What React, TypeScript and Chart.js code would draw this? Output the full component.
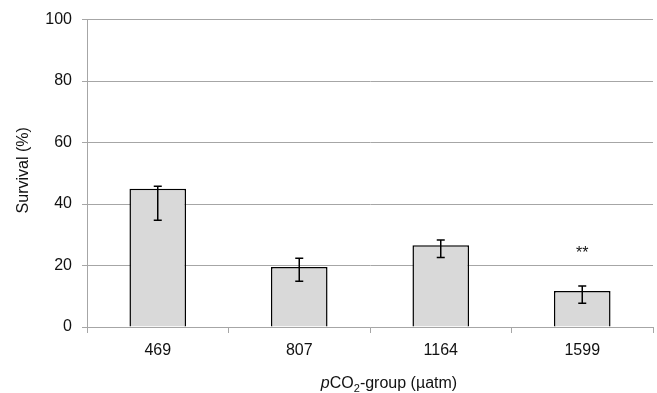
import React, { useEffect, useRef } from "react";
import { Chart, registerables } from "chart.js";

Chart.register(...registerables);

const categories = ["469", "807", "1164", "1599"];
const survival = [45.0, 19.5, 26.6, 11.7];
const errLow = [34.7, 14.9, 22.6, 7.7];
const errHigh = [45.8, 22.4, 28.3, 13.3];
const sigLabels = ["", "", "", "**"];
const sigLevel = [0, 0, 0, 22.5];
const yTicks = [0, 20, 40, 60, 80, 100];

const FONT = "'Liberation Sans', Arial, sans-serif";
const GRID = "#a6a6a6";
const TEXT = "#111111";

const errorBarPlugin = {
  id: "errorBars",
  afterDatasetsDraw(chart: any) {
    const ctx = chart.ctx;
    const xs = chart.scales.x;
    const ys = chart.scales.y;
    ctx.save();
    ctx.strokeStyle = "#000";
    ctx.lineWidth = 1.5;
    categories.forEach((_, i) => {
      const x = xs.getPixelForValue(i);
      const yH = ys.getPixelForValue(errHigh[i]);
      const yL = ys.getPixelForValue(errLow[i]);
      ctx.beginPath();
      ctx.moveTo(x, yH);
      ctx.lineTo(x, yL);
      ctx.moveTo(x - 4, yH);
      ctx.lineTo(x + 4, yH);
      ctx.moveTo(x - 4, yL);
      ctx.lineTo(x + 4, yL);
      ctx.stroke();
    });
    ctx.fillStyle = TEXT;
    ctx.font = `16px ${FONT}`;
    ctx.textAlign = "center";
    ctx.textBaseline = "alphabetic";
    sigLabels.forEach((s, i) => {
      if (!s) return;
      ctx.fillText(s, xs.getPixelForValue(i), ys.getPixelForValue(sigLevel[i]));
    });
    ctx.restore();
  },
};

const titlesPlugin = {
  id: "axisTitles",
  afterDraw(chart: any) {
    const ctx = chart.ctx;
    const area = chart.chartArea;
    ctx.save();
    ctx.fillStyle = TEXT;
    // y title
    ctx.font = `16px ${FONT}`;
    ctx.translate(24, (area.top + area.bottom) / 2 - 3);
    ctx.rotate(-Math.PI / 2);
    ctx.textAlign = "center";
    ctx.textBaseline = "middle";
    ctx.fillText("Survival (%)", 0, 0);
    ctx.restore();

    // x title with italic p and subscript 2
    ctx.save();
    ctx.fillStyle = TEXT;
    ctx.textBaseline = "alphabetic";
    ctx.textAlign = "left";
    const parts = [
      { t: "p", f: `italic 16px ${FONT}`, dy: 0 },
      { t: "CO", f: `16px ${FONT}`, dy: 0 },
      { t: "2", f: `11px ${FONT}`, dy: 4 },
      { t: "-group (µatm)", f: `16px ${FONT}`, dy: 0 },
    ];
    let total = 0;
    parts.forEach((p) => {
      ctx.font = p.f;
      total += ctx.measureText(p.t).width;
    });
    let x = (area.left + area.right) / 2 + 19 - total / 2;
    const y = 388;
    parts.forEach((p) => {
      ctx.font = p.f;
      ctx.fillText(p.t, x, y + p.dy);
      x += ctx.measureText(p.t).width;
    });
    ctx.restore();
  },
};

export default function App() {
  const ref = useRef<HTMLCanvasElement | null>(null);
  useEffect(() => {
    if (!ref.current) return;
    const chart = new Chart(ref.current, {
      type: "bar",
      data: {
        labels: categories,
        datasets: [
          {
            data: survival,
            backgroundColor: "#d9d9d9",
            borderColor: "#000",
            borderWidth: 1.5,
            barPercentage: 0.4,
            categoryPercentage: 1,
          },
        ],
      },
      options: {
        animation: false,
        responsive: false,
        devicePixelRatio: 1,
        layout: { padding: { top: 17, right: 4, left: 0, bottom: 0 } },
        plugins: { legend: { display: false }, tooltip: { enabled: false } },
        scales: {
          x: {
            offset: true,
            grid: {
              offset: true,
              drawOnChartArea: false,
              drawTicks: true,
              tickLength: 6,
              color: GRID,
            },
            border: { display: true, color: GRID, width: 1 },
            ticks: { color: TEXT, font: { family: FONT, size: 16 }, padding: 8 },
            afterFit: (s: any) => {
              s.height = 66;
            },
          },
          y: {
            min: 0,
            max: 100,
            afterBuildTicks: (s: any) => {
              s.ticks = yTicks.map((v) => ({ value: v }));
            },
            grid: { color: GRID, tickLength: 5, drawTicks: true },
            border: { display: true, color: GRID, width: 1 },
            ticks: { color: TEXT, font: { family: FONT, size: 16 }, padding: 10 },
            afterFit: (s: any) => {
              s.width = 87;
            },
          },
        },
      },
      plugins: [errorBarPlugin, titlesPlugin],
    });
    return () => chart.destroy();
  }, []);
  return (
    <div style={{ position: "absolute", left: 0, top: 0, width: 657, height: 393 }}>
      <canvas ref={ref} width={657} height={393} />
    </div>
  );
}
